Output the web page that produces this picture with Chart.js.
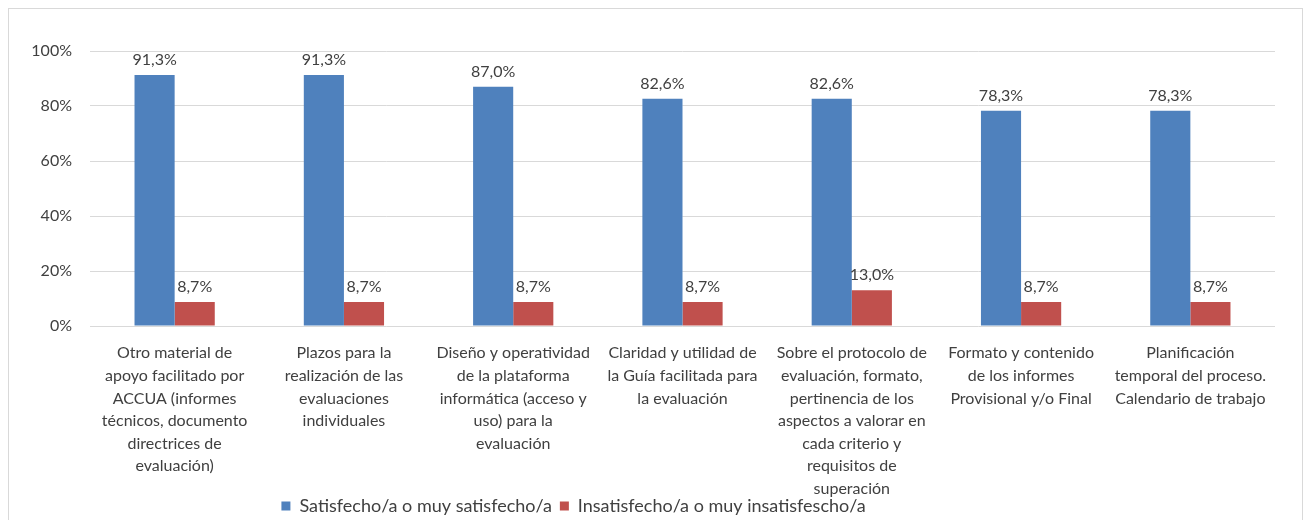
<!DOCTYPE html>
<html>
<head>
<meta charset="utf-8">
<script src="https://cdn.jsdelivr.net/npm/chart.js@4.4.1/dist/chart.umd.min.js"></script>
<style>
  body { margin: 0; background: #fff; }
  #frame { position: absolute; left: 8px; top: 8px; width: 1293px; height: 530px; border: 1px solid #d9d9d9; }
  #c { position: absolute; left: 0; top: 0; }
</style>
</head>
<body>
<div id="frame"></div>
<canvas id="c" width="1307" height="520"></canvas>
<script>
var categories = [
  ["Otro material de", "apoyo facilitado por", "ACCUA (informes", "técnicos, documento", "directrices de", "evaluación)"],
  ["Plazos para la", "realización de las", "evaluaciones", "individuales"],
  ["Diseño y operatividad", "de la plataforma", "informática (acceso y", "uso) para la", "evaluación"],
  ["Claridad y utilidad de", "la Guía facilitada para", "la evaluación"],
  ["Sobre el protocolo de", "evaluación, formato,", "pertinencia de los", "aspectos a valorar en", "cada criterio y", "requisitos de", "superación"],
  ["Formato y contenido", "de los informes", "Provisional y/o Final"],
  ["Planificación", "temporal del proceso.", "Calendario de trabajo"]
];
var satisfechos = [91.3, 91.3, 87.0, 82.6, 82.6, 78.3, 78.3];
var insatisfechos = [8.7, 8.7, 8.7, 8.7, 13.0, 8.7, 8.7];
var yTicks = [0, 20, 40, 60, 80, 100];

var fontFamily = "Lato, 'Noto Sans', sans-serif";
var textColor = "#404040";

function pct(v) { return v.toFixed(1).replace(".", ",") + "%"; }

// labels above each bar
var valueLabels = {
  id: "valueLabels",
  afterDatasetsDraw: function(chart) {
    var ctx = chart.ctx;
    ctx.save();
    ctx.font = "16px " + fontFamily;
    ctx.fillStyle = textColor;
    ctx.textAlign = "center";
    ctx.textBaseline = "bottom";
    chart.data.datasets.forEach(function(ds, i) {
      chart.getDatasetMeta(i).data.forEach(function(bar, j) {
        ctx.fillText(pct(ds.data[j]), bar.x, bar.y - 7);
      });
    });
    ctx.restore();
  }
};

// legend a bit left of centre and lower; long category labels run behind it
var layoutTweaks = {
  id: "layoutTweaks",
  afterUpdate: function(chart) {
    chart.legend.left -= 64;
    chart.legend.right -= 64;
    chart.legend.top += 5;
    chart.legend.bottom += 5;
    chart.scales.x.bottom = chart.height;
  }
};

new Chart(document.getElementById("c"), {
  type: "bar",
  data: {
    labels: categories,
    datasets: [
      { label: "Satisfecho/a o muy satisfecho/a", data: satisfechos, backgroundColor: "#4f81bd" },
      { label: "Insatisfecho/a o muy insatisfescho/a", data: insatisfechos, backgroundColor: "#c0504d" }
    ]
  },
  options: {
    responsive: false,
    animation: false,
    layout: { padding: { top: 51, right: 32, bottom: 0, left: 0 } },
    datasets: { bar: { categoryPercentage: 0.474, barPercentage: 1 } },
    plugins: {
      legend: {
        position: "bottom",
        labels: { boxWidth: 9, boxHeight: 9, padding: 8, color: textColor, font: { family: fontFamily, size: 18 } }
      },
      tooltip: { enabled: false }
    },
    scales: {
      x: {
        grid: { display: false },
        border: { display: false },
        ticks: { color: textColor, maxRotation: 0, autoSkip: false, padding: 8, font: { family: fontFamily, size: 16, lineHeight: 1.41 } },
        afterFit: function(s) { s.height = 158; }
      },
      y: {
        min: 0, max: 100,
        afterBuildTicks: function(s) { s.ticks = yTicks.map(function(v) { return { value: v }; }); },
        grid: { color: "#d9d9d9", drawTicks: false },
        border: { display: false },
        ticks: { color: textColor, padding: 18, font: { family: fontFamily, size: 16 }, callback: function(v) { return v + "%"; } },
        afterFit: function(s) { s.width = 90; }
      }
    }
  },
  plugins: [valueLabels, layoutTweaks]
});
</script>
</body>
</html>
